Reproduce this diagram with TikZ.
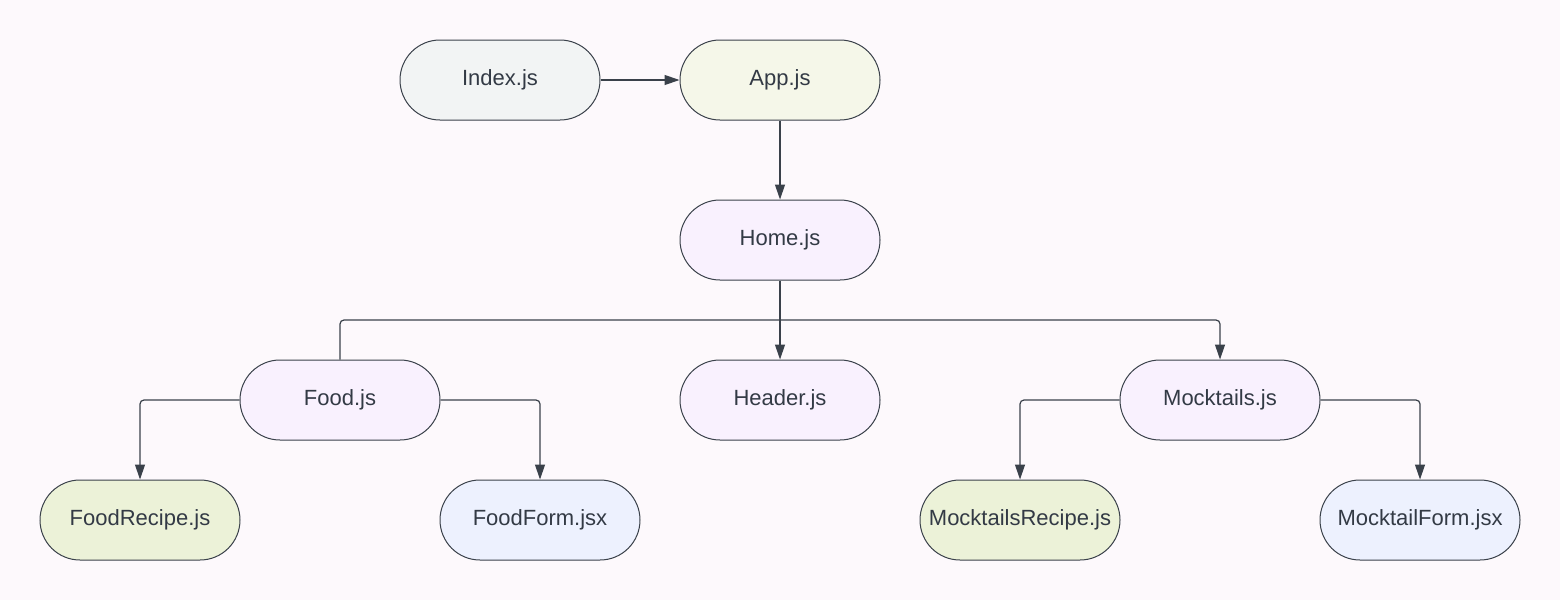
\documentclass[tikz,border=0pt]{standalone}
\usepackage{fontspec}
\setmainfont{Liberation Sans}
\usetikzlibrary{arrows.meta}
\definecolor{bgc}{HTML}{FDF9FC}
\definecolor{linec}{HTML}{3A414A}
\definecolor{txtc}{HTML}{333A45}
\definecolor{greyf}{HTML}{F2F4F4}
\definecolor{yellowf}{HTML}{F5F7E9}
\definecolor{purplef}{HTML}{F9F1FE}
\definecolor{greenf}{HTML}{ECF2D8}
\definecolor{bluef}{HTML}{EDF1FE}
\tikzset{
  pill/.style={draw=linec, line width=1pt, rectangle, rounded corners=40pt,
    minimum width=200pt, minimum height=80pt, inner sep=0pt,
    text=txtc, font=\fontsize{22}{26}\selectfont},
  conn/.style={draw=linec, line width=1.2pt, rounded corners=4pt,
    -{Triangle[length=15pt,width=10pt]}},
  connplain/.style={draw=linec, line width=1.2pt, rounded corners=4pt}
}
\begin{document}
\begin{tikzpicture}[x=1pt,y=-1pt]
\fill[bgc] (0,0) rectangle (1560,600);
\useasboundingbox (0,0) rectangle (1560,600);
\node[pill, fill=greyf] (index) at (500,80) {Index.js};
\node[pill, fill=yellowf] (app) at (780,80) {App.js};
\node[pill, fill=purplef] (home) at (780,240) {Home.js};
\node[pill, fill=purplef] (food) at (340,400) {Food.js};
\node[pill, fill=purplef] (header) at (780,400) {Header.js};
\node[pill, fill=purplef] (mock) at (1220,400) {Mocktails.js};
\node[pill, fill=greenf] (foodrecipe) at (140,520) {FoodRecipe.js};
\node[pill, fill=bluef] (foodform) at (540,520) {FoodForm.jsx};
\node[pill, fill=greenf] (mockrecipe) at (1020,520) {MocktailsRecipe.js};
\node[pill, fill=bluef] (mockform) at (1420,520) {MocktailForm.jsx};
\coordinate (bus) at (780,320);
\draw[conn] (index.east) -- (app.west);
\draw[conn] (app.south) -- (home.north);
\draw[conn] (home.south) -- (header.north);
\draw[conn] (food.north) |- (bus) -| (mock.north);
\draw[conn] (food.west) -| (foodrecipe.north);
\draw[conn] (food.east) -| (foodform.north);
\draw[conn] (mock.west) -| (mockrecipe.north);
\draw[conn] (mock.east) -| (mockform.north);
\end{tikzpicture}
\end{document}
